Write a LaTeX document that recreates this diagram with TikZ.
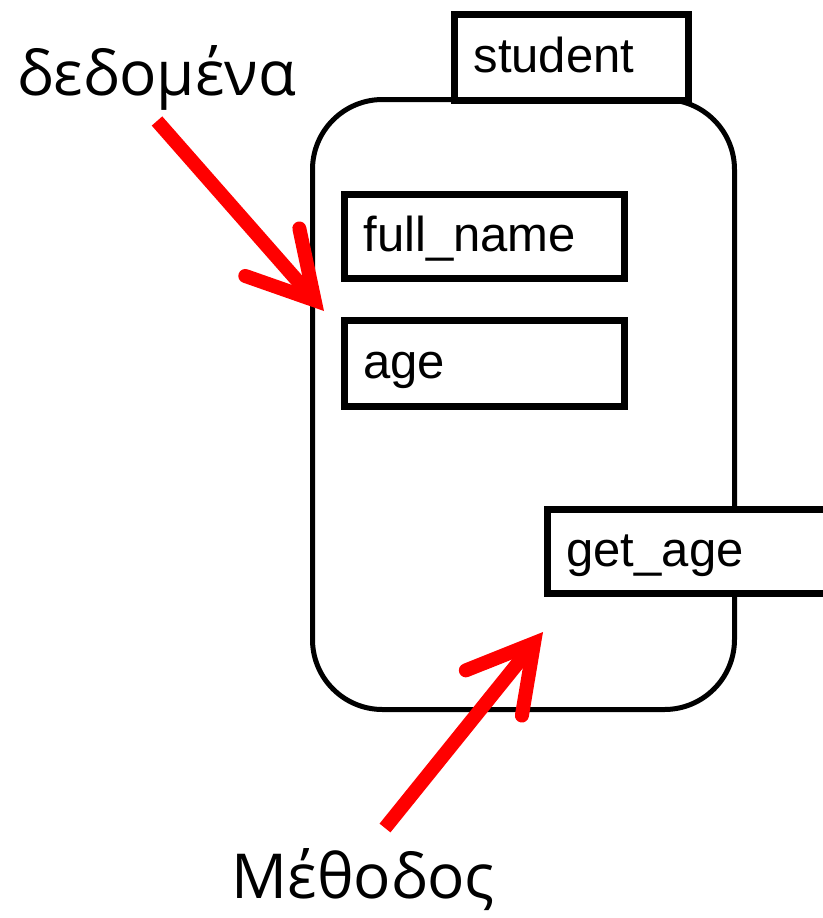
\documentclass[tikz,border=0pt]{standalone}
\usepackage{fontspec}
\setmainfont{Liberation Sans}
\newfontfamily\greekfont{Open Sans}
\usetikzlibrary{arrows.meta}

\begin{document}
\begin{tikzpicture}[x=0.5pt, y=-0.5pt,
  field/.style={draw, line width=3.5pt, fill=white, anchor=north west, inner xsep=9.5pt, align=left,
    text height=17.6pt, text depth=2.9pt, font=\fontsize{24.5}{29}\selectfont},
  pointer/.style={red, line width=7pt, -{Straight Barb[length=32pt, width=36pt, line cap=round, line join=miter]}},
  caption/.style={anchor=base, font=\greekfont\fontsize{31}{37}\selectfont}]
\useasboundingbox (0,0) rectangle (823,918);

% Object
\node[draw, line width=2.5pt, rounded corners=35pt, anchor=north west, inner sep=0pt,
  minimum width=211pt, minimum height=305pt] (obj) at (310,97) {};
\node[field, minimum width=117pt, minimum height=43pt, text width=98pt] (student) at (451,11) {student};

% Data fields
\node[field, minimum width=140pt, minimum height=42pt, text width=121pt] (fullname) at (341,191) {full\_name};
\node[field, minimum width=140pt, minimum height=43pt, text width=121pt] (age) at (341,317) {age};

% Method
\node[field, minimum width=150pt, minimum height=42pt, text width=131pt] (getage) at (544,506) {get\_age};

% Labels
\node[caption] (data) at (157,95) {δεδομένα};
\node[caption] (method) at (363,898) {Μέθοδος};

% Pointers
\coordinate (datatail) at (157,121);
\coordinate (datatip) at (324,311);
\coordinate (methodtail) at (385,828);
\coordinate (methodtip) at (543,632);
\draw[pointer] (datatail) -- (datatip);
\draw[pointer] (methodtail) -- (methodtip);
\end{tikzpicture}
\end{document}
